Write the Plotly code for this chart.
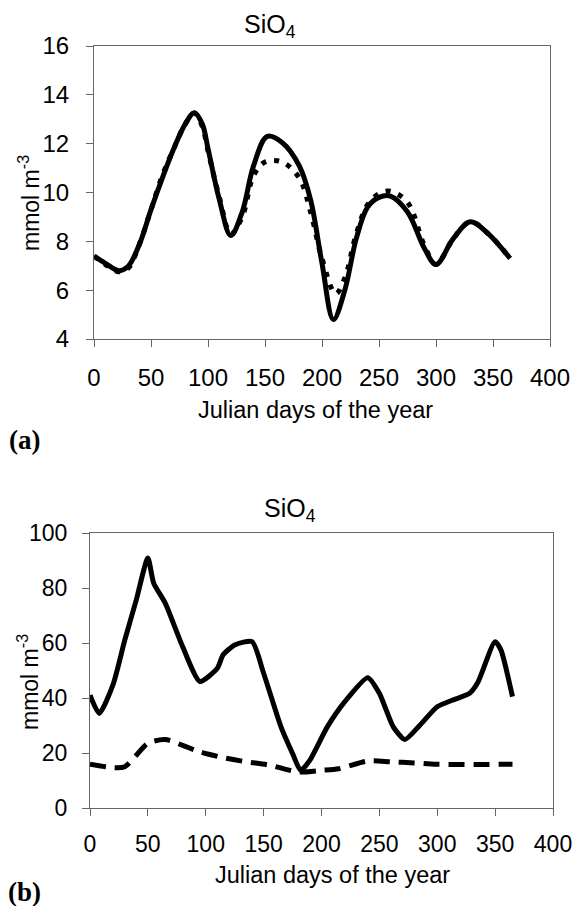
import plotly.graph_objects as go

# ---------------- data ----------------
# Panel (a)
days_a_solid = [0, 10, 22, 30, 40, 50, 60, 70, 80, 88, 95, 100, 110, 120, 130, 140, 152, 165, 180,
                190, 200, 210, 220, 230, 240, 250, 260, 275, 290, 300, 315, 330, 345, 365]
sio4_a_solid = [7.4, 7.1, 6.8, 6.98, 7.9, 9.3, 10.6, 11.8, 12.8, 13.27, 12.8, 11.8, 9.7, 8.24, 9.2,
                11.1, 12.3, 12.05, 11.1, 9.7, 7.1, 4.8, 6.0, 8.1, 9.4, 9.8, 9.85, 9.2, 7.7, 7.05,
                8.1, 8.8, 8.35, 7.3]

days_a_dot = [0, 10, 22, 30, 40, 50, 60, 70, 80, 88, 95, 100, 110, 120, 130, 140, 150, 165, 180,
              190, 200, 212, 220, 230, 240, 250, 260, 275, 290, 300, 315, 330, 345, 365]
sio4_a_dot = [7.4, 7.05, 6.75, 6.9, 7.9, 9.3, 10.7, 11.8, 12.8, 13.25, 12.7, 11.7, 9.8, 8.3, 9.0,
              10.7, 11.25, 11.25, 10.6, 9.2, 7.3, 5.85, 6.5, 8.3, 9.5, 9.95, 10.05, 9.6, 7.8, 7.05,
              8.1, 8.8, 8.35, 7.3]

# Panel (b)
days_b_solid = [0, 8, 20, 30, 40, 50, 55, 65, 80, 95, 110, 115, 125, 140, 150, 165, 175, 182, 190,
                205, 220, 240, 250, 262, 272, 285, 300, 315, 328, 335, 350, 355, 365]
sio4_b_solid = [41, 34.4, 45, 61, 75.7, 90.9, 81.8, 74.5, 58.7, 46, 50.8, 55.7, 59.3, 60.5, 49,
                29.5, 19.8, 13.7, 17.4, 29.5, 38.6, 47.4, 41.7, 29.5, 24.9, 30.1, 36.8, 39.5,
                41.7, 45.6, 60.5, 57.5, 40.5]

days_b_dash = [0, 20, 30, 40, 50, 65, 80, 95, 115, 135, 155, 180, 200, 215, 240, 260, 280, 300, 365]
sio4_b_dash = [15.9, 14.7, 15, 19.2, 23.5, 24.9, 22.8, 20.4, 18.3, 16.8, 15.6, 13.1, 13.7, 14.3,
               17.1, 16.8, 16.4, 15.9, 15.9]

x_ticks = [0, 50, 100, 150, 200, 250, 300, 350, 400]
y_ticks_a = [4, 6, 8, 10, 12, 14, 16]
y_ticks_b = [0, 20, 40, 60, 80, 100]

# ---------------- figure ----------------
W, H = 574, 906
def px(x):
    return x / W
def py(y):
    return 1 - y / H

fig = go.Figure()

fig.add_trace(go.Scatter(x=days_a_dot, y=sio4_a_dot, mode="lines", xaxis="x", yaxis="y",
                         line=dict(color="black", width=5, dash="5px,8px", shape="spline", smoothing=1.0),
                         showlegend=False))
fig.add_trace(go.Scatter(x=days_a_solid, y=sio4_a_solid, mode="lines", xaxis="x", yaxis="y",
                         line=dict(color="black", width=5, shape="spline", smoothing=1.0),
                         showlegend=False))
fig.add_trace(go.Scatter(x=days_b_dash, y=sio4_b_dash, mode="lines", xaxis="x2", yaxis="y2",
                         line=dict(color="black", width=5, dash="16px,9px", shape="spline", smoothing=0.8),
                         showlegend=False))
fig.add_trace(go.Scatter(x=days_b_solid, y=sio4_b_solid, mode="lines", xaxis="x2", yaxis="y2",
                         line=dict(color="black", width=5, shape="spline", smoothing=0.6),
                         showlegend=False))

font_family = "Liberation Sans, Arial, sans-serif"
axis_common = dict(showgrid=False, zeroline=False, showline=True, linecolor="#666", linewidth=1,
                   mirror=True, ticks="outside", ticklen=7, tickcolor="#666", tickwidth=1,
                   automargin=False)

fig.update_layout(
    width=W, height=H,
    margin=dict(l=0, r=0, t=0, b=0),
    paper_bgcolor="white", plot_bgcolor="white",
    font=dict(family=font_family, color="black"),
    xaxis=dict(domain=[px(94), px(550)], range=[0, 400], tickvals=x_ticks, anchor="y",
               tickfont=dict(size=24), ticklabelstandoff=10, **axis_common),
    yaxis=dict(domain=[py(339), py(46)], range=[4, 16], tickvals=y_ticks_a, anchor="x",
               tickfont=dict(size=24), ticklabelstandoff=12, **axis_common),
    xaxis2=dict(domain=[px(90), px(553)], range=[0, 400], tickvals=x_ticks, anchor="y2",
                tickfont=dict(size=23), ticklabelstandoff=8, **axis_common),
    yaxis2=dict(domain=[py(808), py(533)], range=[0, 100], tickvals=y_ticks_b, anchor="x2",
                tickfont=dict(size=23), ticklabelstandoff=10, **axis_common),
)

ann = []
def add_text(text, x, y, size, angle=0, family=font_family):
    ann.append(dict(text=text, x=px(x), y=py(y), xref="paper", yref="paper", showarrow=False,
                    xanchor="center", yanchor="middle", textangle=angle,
                    font=dict(size=size, family=family, color="black")))

add_text("SiO<sub>4</sub>", 270, 26, 25)
add_text("SiO<sub>4</sub>", 290, 510, 25)
add_text("Julian days of the year", 315, 410, 23.5)
add_text("Julian days of the year", 332, 875, 23.5)
add_text("mmol m<sup>-3</sup>", 29, 203, 23, angle=-90)
add_text("mmol m<sup>-3</sup>", 28, 682, 23, angle=-90)
add_text("<b>(a)</b>", 24, 440, 27, family="Liberation Serif, Times New Roman, serif")
add_text("<b>(b)</b>", 24, 892, 27, family="Liberation Serif, Times New Roman, serif")
fig.update_layout(annotations=ann)

fig.write_html("out.html", config={"displayModeBar": False},
               post_script="document.body.style.margin='0px';document.body.style.overflow='hidden';")
